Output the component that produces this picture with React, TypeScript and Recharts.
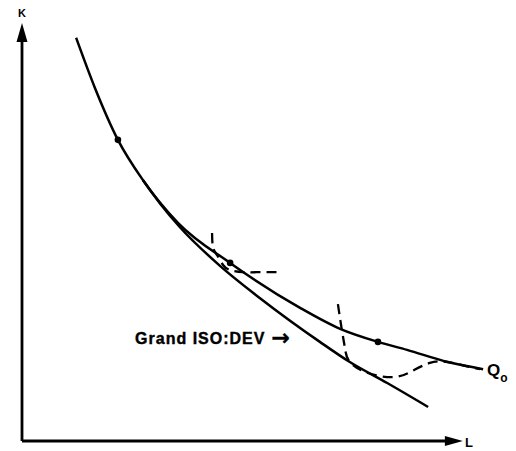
import React from "react";
import { ComposedChart, Line, Scatter, XAxis, YAxis } from "recharts";

// Isoquant Q0 (upper solid curve): L = labour, K = capital
const Q0_CURVE = [
  { L: 12.3, K: 96.0 },
  { L: 16.6, K: 84.0 },
  { L: 21.8, K: 71.7 },
  { L: 27.5, K: 62.1 },
  { L: 35.5, K: 51.9 },
  { L: 47.3, K: 42.4 },
  { L: 63.2, K: 31.7 },
  { L: 72.3, K: 26.7 },
  { L: 80.9, K: 23.6 },
  { L: 87.5, K: 21.7 },
  { L: 96.8, K: 18.8 },
  { L: 104.8, K: 17.1 },
];

// Grand ISO:DEV envelope (lower solid curve)
const GRAND_CURVE = [
  { L: 27.5, K: 62.1 },
  { L: 31.5, K: 56.4 },
  { L: 35.9, K: 50.9 },
  { L: 45.0, K: 41.7 },
  { L: 54.1, K: 34.0 },
  { L: 67.7, K: 23.6 },
  { L: 74.5, K: 18.8 },
  { L: 83.0, K: 13.8 },
  { L: 92.3, K: 8.1 },
];

// Short-run (dashed) isoquants
const DASHED_ONE = [
  { L: 43.2, K: 49.5 },
  { L: 43.4, K: 46.2 },
  { L: 44.3, K: 44.3 },
  { L: 45.7, K: 41.9 },
  { L: 47.3, K: 40.7 },
  { L: 50.2, K: 40.2 },
  { L: 54.2, K: 40.2 },
  { L: 58.2, K: 40.2 },
];

const DASHED_TWO = [
  { L: 71.8, K: 32.6 },
  { L: 72.7, K: 26.4 },
  { L: 73.4, K: 22.1 },
  { L: 74.5, K: 18.8 },
  { L: 78.6, K: 16.2 },
  { L: 84.1, K: 15.2 },
  { L: 88.2, K: 16.4 },
  { L: 92.7, K: 18.6 },
  { L: 96.8, K: 18.8 },
  { L: 100.7, K: 17.9 },
  { L: 104.1, K: 17.1 },
];

// Tangency points on Q0
const DOTS = [
  { L: 21.8, K: 71.7 },
  { L: 47.3, K: 42.4 },
  { L: 80.9, K: 23.6 },
];

// Axes
const AXIS_X = [
  { L: 0, K: 0 },
  { L: 97, K: 0 },
];
const AXIS_Y = [
  { L: 0, K: 0 },
  { L: 0, K: 96 },
];
const ARROW_TIPS = [
  { L: 100.2, K: 0, dir: "right" },
  { L: 0, K: 99.5, dir: "up" },
];

// Text labels
const LABELS = [
  { L: 0, K: 101, text: "K", kind: "k" },
  { L: 100.7, K: -1.4, text: "L", kind: "l" },
  { L: 105.7, K: 15.5, text: "Q", sub: "o", kind: "q" },
  { L: 25.7, K: 23.1, text: "Grand ISO:DEV", kind: "grand" },
];

const FONT = "'Liberation Sans', Arial, Helvetica, sans-serif";

const DotShape = (props: any) => {
  const { cx, cy } = props;
  return <circle cx={cx} cy={cy} r={3.3} fill="#000" />;
};

const ArrowShape = (props: any) => {
  const { cx, cy, payload } = props;
  if (payload.dir === "right") {
    return (
      <polygon
        points={`${cx},${cy} ${cx - 18},${cy - 5} ${cx - 18},${cy + 5}`}
        fill="#000"
      />
    );
  }
  return (
    <polygon
      points={`${cx},${cy} ${cx - 5.5},${cy + 19} ${cx + 5.5},${cy + 19}`}
      fill="#000"
    />
  );
};

const LabelShape = (props: any) => {
  const { cx, cy, payload } = props;
  if (payload.kind === "k") {
    return (
      <text x={cx} y={cy} textAnchor="middle" fontFamily={FONT} fontWeight="bold" fontSize={11} fill="#000">
        {payload.text}
      </text>
    );
  }
  if (payload.kind === "l") {
    return (
      <text x={cx} y={cy} textAnchor="start" fontFamily={FONT} fontWeight="bold" fontSize={13} fill="#000">
        {payload.text}
      </text>
    );
  }
  if (payload.kind === "q") {
    return (
      <text x={cx} y={cy} textAnchor="start" fontFamily={FONT} fontWeight="bold" fontSize={17} fill="#000">
        {payload.text}
        <tspan dy={6} fontSize={12}>
          {payload.sub}
        </tspan>
      </text>
    );
  }
  return (
    <text x={cx} y={cy} textAnchor="start" fontFamily={FONT} fontWeight="bold" fontSize={16} letterSpacing={1} fill="#000" stroke="#000" strokeWidth={0.4}>
      {payload.text}
      <tspan dx={6} dy={1} fontSize={22} fontFamily="'DejaVu Sans', sans-serif" letterSpacing={0}>
        →
      </tspan>
    </text>
  );
};

export default function App() {
  return (
    <div style={{ position: "absolute", left: 0, top: 0, background: "#fff" }}>
      <ComposedChart
        width={516}
        height={451}
        margin={{ top: 0, right: 10, bottom: 1.6, left: 22 }}
      >
        <XAxis type="number" dataKey="L" domain={[0, 110]} hide />
        <YAxis type="number" dataKey="K" domain={[-2, 105]} hide />
        <Line data={AXIS_X} dataKey="K" type="linear" stroke="#000" strokeWidth={2.8} dot={false} activeDot={false} isAnimationActive={false} />
        <Line data={AXIS_Y} dataKey="K" type="linear" stroke="#000" strokeWidth={2.8} dot={false} activeDot={false} isAnimationActive={false} />
        <Line data={Q0_CURVE} dataKey="K" type="monotone" stroke="#000" strokeWidth={2.5} dot={false} activeDot={false} isAnimationActive={false} />
        <Line data={GRAND_CURVE} dataKey="K" type="monotone" stroke="#000" strokeWidth={2.5} dot={false} activeDot={false} isAnimationActive={false} />
        <Line data={DASHED_ONE} dataKey="K" type="natural" stroke="#000" strokeWidth={2.3} strokeDasharray="10 6" dot={false} activeDot={false} isAnimationActive={false} />
        <Line data={DASHED_TWO} dataKey="K" type="natural" stroke="#000" strokeWidth={2.3} strokeDasharray="10 6" dot={false} activeDot={false} isAnimationActive={false} />
        <Scatter data={DOTS} dataKey="K" shape={DotShape} isAnimationActive={false} />
        <Scatter data={ARROW_TIPS} dataKey="K" shape={ArrowShape} isAnimationActive={false} />
        <Scatter data={LABELS} dataKey="K" shape={LabelShape} isAnimationActive={false} />
      </ComposedChart>
    </div>
  );
}
